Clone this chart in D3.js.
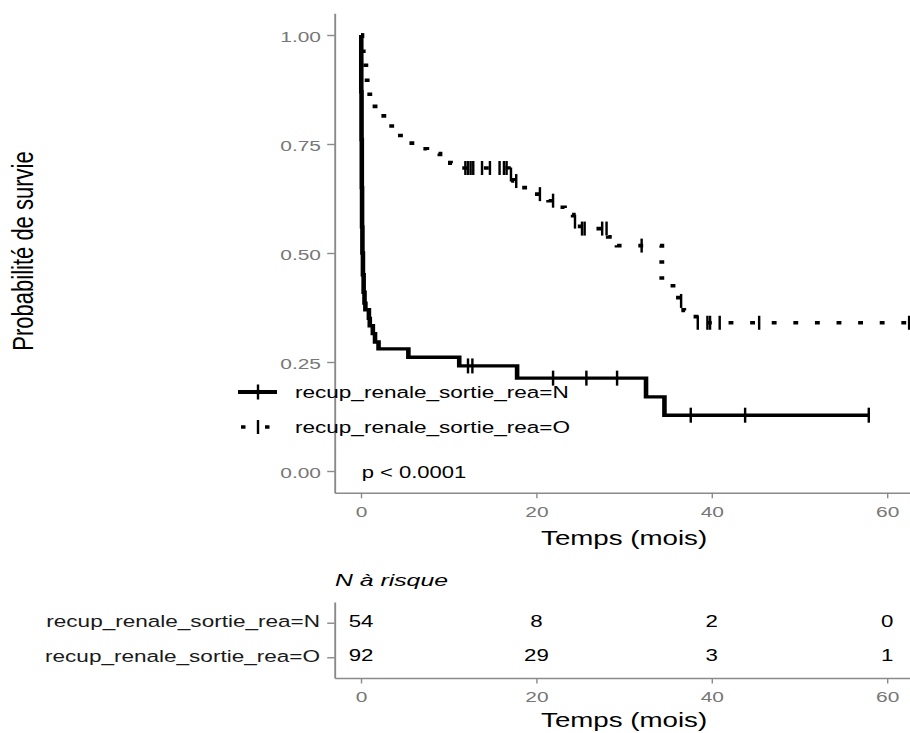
<!DOCTYPE html>
<html><head><meta charset="utf-8">
<script src="https://cdn.jsdelivr.net/npm/d3@7"></script>
<style>body{margin:0;background:#fff} svg{display:block} text{font-family:"Liberation Sans",Arial,Helvetica,sans-serif}</style>
</head><body>
<svg id="c" width="910" height="733"></svg>
<script>
// ---- data ----
const groups = ["recup_renale_sortie_rea=N", "recup_renale_sortie_rea=O"];
const timeN = [0, 0.03, 0.06, 0.09, 0.12, 0.16, 0.22, 0.3, 0.4, 0.5, 0.9, 1.0, 1.35, 1.6, 2.0, 5.4, 11.2, 17.8, 32.5, 34.6, 57.9];
const survN = [1.0, 0.87, 0.76, 0.65, 0.56, 0.50, 0.45, 0.41, 0.385, 0.37, 0.35, 0.333, 0.315, 0.296, 0.280, 0.261, 0.241, 0.213, 0.170, 0.128, 0.128];
const censorN = [12.2, 12.7, 21.9, 25.7, 29.2, 37.6, 43.8, 57.9];
const timeO = [0, 0.1, 0.25, 0.4, 0.55, 0.7, 0.85, 1.0, 1.6, 2.6, 3.5, 4.5, 5.8, 7.5, 9.0, 10.2, 11.0, 16.8, 17.4, 18.0, 19.2, 21.4, 22.3, 23.2, 24.2, 25.0, 28.2, 29.2, 34.3, 36.2, 36.8, 38.2, 62.5];
const survO = [1.0, 0.978, 0.957, 0.935, 0.913, 0.891, 0.870, 0.848, 0.826, 0.804, 0.783, 0.761, 0.739, 0.728, 0.717, 0.706, 0.695, 0.680, 0.665, 0.650, 0.635, 0.620, 0.605, 0.588, 0.572, 0.556, 0.537, 0.517, 0.425, 0.390, 0.368, 0.340, 0.340];
const censorO = [11.9, 12.2, 12.5, 12.8, 13.8, 14.7, 15.8, 16.3, 16.6, 17.1, 17.7, 20.4, 21.9, 24.4, 25.2, 25.5, 27.5, 28.0, 32.0, 36.5, 38.4, 39.5, 39.8, 40.9, 45.4, 62.5];
const riskTimes = [0, 20, 40, 60];
const riskN = [54, 8, 2, 0];
const riskO = [92, 29, 3, 1];
const yTicks = [0, 0.25, 0.5, 0.75, 1];
const yTickLabels = ["0.00", "0.25", "0.50", "0.75", "1.00"];
const xTicks = [0, 20, 40, 60];
const pText = "p < 0.0001";
const xTitle = "Temps (mois)";
const yTitle = "Probabilité de survie";
const riskTitle = "N à risque";

// ---- layout ----
const SX = 1.35; // the reference is stretched horizontally
const svg = d3.select("#c");
const L = 334.7, R = 913.5, T = 13.2, B = 492.8;
const x = d3.scaleLinear().domain([-3, 63]).range([L, R]);
const xl = d3.scaleLinear().domain([-3, 63]).range([L / SX, R / SX]);
const y = d3.scaleLinear().domain([-0.05, 1.05]).range([B, T]);
const axisCol = "#8a8a8a", tickCol = "#777";

function txt(g, px, py, s, size, opts = {}) {
  return g.append("text")
    .attr("transform", `translate(${px},${py}) scale(${opts.sx || SX},1)`)
    .attr("font-size", size)
    .attr("text-anchor", opts.anchor || "start")
    .attr("fill", opts.fill || "#000")
    .attr("font-style", opts.italic ? "italic" : null)
    .text(s);
}
function stepAt(times, surv, t) {
  let i = d3.bisectRight(times, t) - 1;
  return surv[Math.max(0, i)];
}

// ---- curves (drawn in stretched coordinates) ----
const cg = svg.append("g").attr("transform", `scale(${SX},1)`);
const line = d3.line().x(d => xl(d[0])).y(d => y(d[1])).curve(d3.curveStepAfter);
cg.append("path").datum(d3.zip(timeO, survO)).attr("d", line)
  .attr("fill", "none").attr("stroke", "#000").attr("stroke-width", 3.6)
  .attr("stroke-dasharray", "3.6,12.4");
cg.append("path").datum(d3.zip(timeN, survN)).attr("d", line)
  .attr("fill", "none").attr("stroke", "#000").attr("stroke-width", 3.4);
cg.selectAll(".cn").data(censorN).enter().append("line")
  .attr("x1", d => xl(d)).attr("x2", d => xl(d))
  .attr("y1", d => y(stepAt(timeN, survN, d)) - 7.5).attr("y2", d => y(stepAt(timeN, survN, d)) + 7.5)
  .attr("stroke", "#000").attr("stroke-width", 1.8);
cg.selectAll(".co").data(censorO).enter().append("line")
  .attr("x1", d => xl(d)).attr("x2", d => xl(d))
  .attr("y1", d => y(stepAt(timeO, survO, d)) - 7).attr("y2", d => y(stepAt(timeO, survO, d)) + 7)
  .attr("stroke", "#000").attr("stroke-width", 1.8);

// ---- main axes ----
const gx = svg.append("g").attr("transform", `translate(0,${B})`)
  .call(d3.axisBottom(x).tickValues(xTicks).tickSize(5.5).tickSizeOuter(0).tickFormat(d3.format("d")));
const gy = svg.append("g").attr("transform", `translate(${L},0)`)
  .call(d3.axisLeft(y).tickValues(yTicks).tickSize(7.5).tickSizeOuter(0).tickFormat((d, i) => yTickLabels[i]));
function styleAxis(g, w) {
  g.select(".domain").attr("stroke", axisCol).attr("stroke-width", w);
  g.selectAll(".tick line").attr("stroke", axisCol).attr("stroke-width", 1.4);
}
styleAxis(gx, 1.4); styleAxis(gy, 1.9);
gx.selectAll(".tick text").attr("y", null).attr("dy", null)
  .attr("transform", `translate(0,${516.7 - B}) scale(${SX},1)`)
  .attr("font-size", 15.5).attr("fill", tickCol).attr("font-family", null);
gy.selectAll(".tick text").attr("x", null).attr("dy", null)
  .attr("transform", `translate(-13.7,6.2) scale(${SX},1)`)
  .attr("font-size", 15.5).attr("fill", tickCol).attr("font-family", null);

// titles
txt(svg, (L + R) / 2, 544.5, xTitle, 20.5, { anchor: "middle" });
svg.append("text").attr("transform", `translate(33,251) scale(${SX},1) rotate(-90)`)
  .attr("font-size", 22).attr("text-anchor", "middle").attr("fill", "#000").text(yTitle);
txt(svg, 361.7, 478.3, pText, 16.3);

// legend
const lg = svg.append("g");
lg.append("line").attr("x1", 238).attr("x2", 277).attr("y1", 392).attr("y2", 392)
  .attr("stroke", "#000").attr("stroke-width", 4);
lg.append("line").attr("x1", 258).attr("x2", 258).attr("y1", 384.5).attr("y2", 399.5)
  .attr("stroke", "#000").attr("stroke-width", 2.4);
lg.append("line").attr("x1", 241).attr("x2", 277).attr("y1", 427).attr("y2", 427)
  .attr("stroke", "#000").attr("stroke-width", 3.6).attr("stroke-dasharray", "4.5,19.5");
lg.append("line").attr("x1", 258).attr("x2", 258).attr("y1", 420).attr("y2", 434)
  .attr("stroke", "#000").attr("stroke-width", 2.4);
txt(lg, 295, 398.3, groups[0], 16.7);
txt(lg, 295, 433.3, groups[1], 16.7);

// ---- risk table ----
const RT = 602, RB = 678;
const ry = d3.scalePoint().domain(groups).range([RT, RB]).padding(0.6);
txt(svg, 335, 586, riskTitle, 16, { italic: true, sx: 1.55 });
const rgx = svg.append("g").attr("transform", `translate(0,${RB})`)
  .call(d3.axisBottom(x).tickValues(xTicks).tickSize(5.5).tickSizeOuter(0).tickFormat(d3.format("d")));
const rgy = svg.append("g").attr("transform", `translate(${L},0)`)
  .call(d3.axisLeft(ry).tickSize(7.5).tickSizeOuter(0));
styleAxis(rgx, 1.4); styleAxis(rgy, 1.9);
rgx.selectAll(".tick text").attr("y", null).attr("dy", null)
  .attr("transform", `translate(0,${701.7 - RB}) scale(${SX},1)`)
  .attr("font-size", 15.5).attr("fill", tickCol).attr("font-family", null);
rgy.selectAll(".tick text").attr("x", null).attr("dy", null)
  .attr("transform", `translate(-14.7,4) scale(${SX},1)`)
  .attr("font-size", 16.7).attr("fill", "#1a1a1a").attr("font-family", null);
const riskRows = [riskN, riskO];
riskRows.forEach((row, gi) => {
  row.forEach((v, i) => {
    txt(svg, x(riskTimes[i]), ry(groups[gi]) + 4, String(v), 16.5, { anchor: "middle" });
  });
});
txt(svg, (L + R) / 2, 726.5, xTitle, 20.5, { anchor: "middle" });
</script>
</body></html>
